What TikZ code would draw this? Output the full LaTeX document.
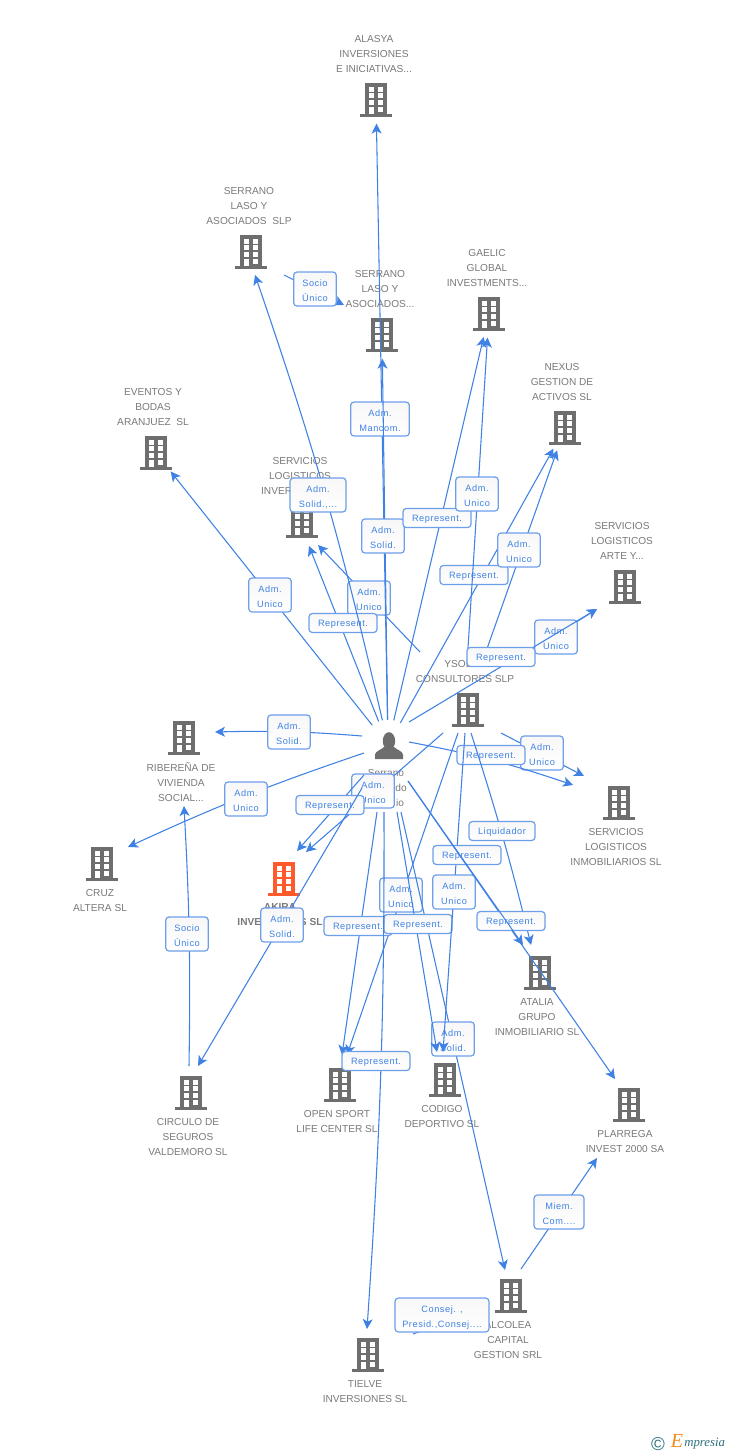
\documentclass[tikz,border=0pt]{standalone}
\usepackage{fontspec}
\setmainfont{Liberation Sans}
\newfontfamily\tagfont[LetterSpace=6]{Liberation Sans}
\newfontfamily\logofont{Liberation Serif}
\usetikzlibrary{arrows.meta, positioning}
\definecolor{linkblue}{HTML}{3F82E4}
\definecolor{tagblue}{HTML}{6C9FEA}
\definecolor{iconGray}{HTML}{6E6E6E}
\definecolor{capGray}{HTML}{7A7A7A}
\definecolor{akiraRed}{HTML}{FF5A2B}
\definecolor{logoTeal}{HTML}{2F6F7F}
\definecolor{logoOrange}{HTML}{F08A1D}

\newcommand{\bldgicon}[1]{
  \begin{scope}[shift={(path picture bounding box.center)}]
  \fill [#1] (-11,-17) rectangle (11,14);
  \fill [#1] (-16,14) rectangle (16,16.7);
  \foreach \wy in {-13.3,-6.7,0} {
    \fill [white] (-7,\wy) rectangle (-2,\wy+5);
    \fill [white] (2.3,\wy) rectangle (7.3,\wy+5);
  }
  \fill [white] (-7,6.7) rectangle (-2,14);
  \fill [white] (2.3,6.7) rectangle (7.3,11.7);
  \end{scope}
}
\tikzset{
  bldg/.style={circle, inner sep=0pt, minimum size=35pt, path picture={\bldgicon{#1}}},
  bldg/.default=iconGray,
  personicon/.style={circle, inner sep=0pt, minimum size=37.5pt},
  caption/.style={align=center, inner sep=0pt, text=capGray, font=\fontsize{7.6}{11.25}\selectfont},
  link/.style={draw=linkblue, line width=0.8pt, -{Stealth[length=7.5pt,width=7.5pt,inset=2pt]}},
  plainlink/.style={draw=linkblue, line width=0.8pt},
  tag/.style={draw=tagblue, line width=0.9pt, rounded corners=2.5pt, top color=black!3, bottom color=white,
    align=center, inner sep=0pt, text=linkblue, font=\tagfont\fontsize{6.9}{11.25}\selectfont,
    minimum width=32pt, minimum height=25.5pt, text height=18pt, text depth=0pt},
  tagone/.style={tag, minimum width=51pt, minimum height=14.25pt, text height=5.5pt}
}

\begin{document}
\begin{tikzpicture}[x=0.75pt, y=-0.75pt]
\useasboundingbox [fill=white] (0,0) rectangle (728,1455);

\node [bldg] (alasya) at (376,100) {};
\node [bldg] (serranoslp) at (251,252) {};
\node [bldg] (serranodos) at (382,335) {};
\node [bldg] (gaelic) at (489,314) {};
\node [bldg] (nexus) at (565,428) {};
\node [bldg] (eventos) at (156,453) {};
\node [bldg] (logistinver) at (302,521) {};
\node [bldg] (logistarte) at (625,587) {};
\node [bldg] (ysolda) at (468,710) {};
\node [bldg] (ribera) at (184,738) {};
\node [bldg] (cruz) at (102,864) {};
\node [bldg=akiraRed] (akira) at (284,879) {};
\node [bldg] (logistinmo) at (619,803) {};
\node [bldg] (atalia) at (540,973) {};
\node [bldg] (plarrega) at (629,1105) {};
\node [bldg] (codigo) at (445,1080) {};
\node [bldg] (opensport) at (340,1085) {};
\node [bldg] (circulo) at (191,1093) {};
\node [bldg] (alcolea) at (511,1296) {};
\node [bldg] (tielve) at (368,1355) {};
\node [personicon] (person) at (388,745) {};
\fill [iconGray] (389,741) ellipse (6.2 and 8.8);
\fill [iconGray] (375,759) -- (375,754.5) .. controls (375.5,751) and (381,750) .. (384,747) -- (394,747) .. controls (397,750) and (402.5,751) .. (403,754.5) -- (403,759) -- cycle;

\node [caption] (alasyaText) at (374,54) {ALASYA\\INVERSIONES\\E INICIATIVAS...};
\node [caption] (serranoslpText) at (249,206) {SERRANO\\LASO Y\\ASOCIADOS~~SLP};
\node [caption] (serranodosText) at (380,289) {SERRANO\\LASO Y\\ASOCIADOS...};
\node [caption] (gaelicText) at (487,268) {GAELIC\\GLOBAL\\INVESTMENTS...};
\node [caption] (nexusText) at (562,382) {NEXUS\\GESTION DE\\ACTIVOS SL};
\node [caption] (eventosText) at (153,407) {EVENTOS Y\\BODAS\\ARANJUEZ~~SL};
\node [caption] (logistinverText) at (300,476) {SERVICIOS\\LOGISTICOS\\INVERSIONES...};
\node [caption] (logistarteText) at (622,541) {SERVICIOS\\LOGISTICOS\\ARTE Y...};
\node [caption] (ysoldaText) at (465,671.5) {YSOLDA\\CONSULTORES SLP};
\node [caption] (riberaText) at (181,782) {RIBERE\~NA DE\\VIVIENDA\\SOCIAL...};
\node [caption] (cruzText) at (100,900.5) {CRUZ\\ALTERA SL};
\node [caption, font=\bfseries\fontsize{7.6}{11.25}\selectfont] (akiraText) at (280,914.5) {AKIRA\\INVERSIONES SL};
\node [caption] (logistinmoText) at (616,847) {SERVICIOS\\LOGISTICOS\\INMOBILIARIOS SL};
\node [caption] (ataliaText) at (537,1017) {ATALIA\\GRUPO\\INMOBILIARIO SL};
\node [caption] (plarregaText) at (625,1141.5) {PLARREGA\\INVEST 2000 SA};
\node [caption] (codigoText) at (442,1116.5) {CODIGO\\DEPORTIVO SL};
\node [caption] (opensportText) at (337,1121.5) {OPEN SPORT\\LIFE CENTER SL};
\node [caption] (circuloText) at (188,1137) {CIRCULO DE\\SEGUROS\\VALDEMORO SL};
\node [caption] (alcoleaText) at (508,1340) {ALCOLEA\\CAPITAL\\GESTION SRL};
\node [caption] (tielveText) at (365,1391.5) {TIELVE\\INVERSIONES SL};
\node [caption] (personText) at (386,773) {Serrano};
\node [caption] (personTextB) at (401,788) {do};
\node [caption] (personTextC) at (400,803) {io};

\coordinate (socioA) at (284,275);
\coordinate (socioB) at (344,305);
\coordinate (logTipA) at (309,546);
\coordinate (logTipB) at (318,545);
\coordinate (ysoUpA) at (420,652);
\coordinate (ysoUpB) at (468,648);
\coordinate (ysoUpC) at (483,660);
\coordinate (ysoUpD) at (513,662);
\coordinate (perArte) at (409,722);
\coordinate (arteTip) at (597,609);
\coordinate (ribA) at (362,736);
\coordinate (ribB) at (215,732);
\coordinate (cruzTip) at (128,847);
\coordinate (perInmo) at (409,742);
\coordinate (inmoTipA) at (573,785);
\coordinate (ysoInmo) at (501,733);
\coordinate (inmoTipB) at (584,776);
\coordinate (perAkira) at (364,775);
\coordinate (akiraTipA) at (297,851);
\coordinate (ysoAkira) at (443,733);
\coordinate (akiraTipB) at (306,852);
\coordinate (perCirc) at (362,788);
\coordinate (circTip) at (198,1066);
\coordinate (circTop) at (189,1066);
\coordinate (ribTip) at (184,806);
\coordinate (perTielve) at (384,812);
\coordinate (tielveTip) at (367,1329);
\coordinate (perOpen) at (377,812);
\coordinate (openTipA) at (342,1055);
\coordinate (ysoOpen) at (458,733);
\coordinate (openTipB) at (347,1055);
\coordinate (perCod) at (397,812);
\coordinate (codTipA) at (437,1052);
\coordinate (perAlc) at (401,812);
\coordinate (alcTip) at (505,1270);
\coordinate (ysoCod) at (465,733);
\coordinate (codTipB) at (443,1052);
\coordinate (ysoAta) at (471,733);
\coordinate (ataTipA) at (531,945);
\coordinate (perAta) at (408,781);
\coordinate (ataTipB) at (523,945);
\coordinate (plarTip) at (615,1079);
\coordinate (alcUp) at (521,1269);
\coordinate (plarDown) at (597,1158);
\coordinate (alcLow) at (478,1310);
\coordinate (tielveTick) at (413,1334);
\coordinate (slpTip) at (255,275);

\draw [link] (person) to [bend right=3] (cruzTip);
\node [tag] (tagCruz) at (246,799) {Adm.\\Unico};
\draw [link] (ribA) to [bend right=3] (ribB);
\node [tag] (tagRibera) at (289,732) {Adm.\\Solid.};
\draw [link] (person) -- (eventos);
\node [tag] (tagEventos) at (270,595) {Adm.\\Unico};
\draw [link] (ysoUpA) -- (logTipB);
\node [tag] (tagLogistB) at (369,598) {Adm.\\Unico};
\draw [link] (person) -- (logTipA);
\node [tagone] (tagLogistA) at (343,623) {Represent.};
\draw [link] (person) to [bend right=3] (slpTip);
\node [tag, minimum width=42pt] (tagSlp) at (318,495) {Adm.\\Solid.,...};
\draw [link] (person) -- (alasya);
\node [tag, minimum width=44pt] (tagAlasya) at (380,419) {Adm.\\Mancom.};
\draw [link] (person) -- (serranodos);
\node [tag] (tagSerrano) at (383,536) {Adm.\\Solid.};
\draw [link] (socioA) -- (socioB);
\node [tag] (tagSocioA) at (315,289) {Socio\\\'Unico};

\draw [link] (person) -- (gaelic);
\node [tagone] (tagGaelicA) at (437,518) {Represent.};
\draw [link] (person) -- (nexus);
\node [tagone] (tagNexusA) at (474,575) {Represent.};
\draw [link] (ysoUpC) -- (nexus);
\node [tag] (tagNexusB) at (519,550) {Adm.\\Unico};
\draw [link] (ysoUpB) -- (gaelic);
\node [tag] (tagGaelicB) at (477,494) {Adm.\\Unico};
\draw [link] (ysoUpD) -- (arteTip);
\node [tag] (tagArteB) at (556,637) {Adm.\\Unico};
\draw [link] (perArte) -- (arteTip);
\node [tagone] (tagArteA) at (501,657) {Represent.};

\draw [link] (ysoInmo) -- (inmoTipB);
\node [tag] (tagInmoB) at (542,753) {Adm.\\Unico};
\draw [link] (perInmo) to [bend left=4] (inmoTipA);
\node [tagone] (tagInmoA) at (491,755) {Represent.};

\draw [link] (ysoAkira) -- (akiraTipB);
\node [tag] (tagAkiraB) at (373,791) {Adm.\\Unico};
\draw [link] (perAkira) -- (akiraTipA);
\node [tagone] (tagAkiraA) at (330,805) {Represent.};
\draw [link] (perCirc) -- (circTip);
\node [tag] (tagCirculo) at (282,925) {Adm.\\Solid.};
\draw [link] (circTop) to [bend right=2] (ribTip);
\node [tag] (tagSocioB) at (187,934) {Socio\\\'Unico};

\draw [link] (ysoOpen) -- (openTipB);
\node [tag] (tagOpenB) at (401,895) {Adm.\\Unico};
\draw [link] (perAlc) -- (alcTip);
\node [tag] (tagAlcolea) at (453,1039) {Adm.\\Solid.};
\draw [link] (perOpen) -- (openTipA);
\node [tagone] (tagOpenA) at (358,926) {Represent.};
\draw [link] (perCod) -- (codTipA);
\node [tagone] (tagCodigoA) at (418,924) {Represent.};
\draw [link] (ysoCod) -- (codTipB);
\node [tag] (tagCodigoB) at (454,892) {Adm.\\Unico};
\draw [link] (perTielve) to [bend left=2] (tielveTip);
\node [tagone] (tagTielve) at (376,1061) {Represent.};

\draw [link] (ysoAta) to [bend left=2] (ataTipA);
\node [tagone, minimum width=49.5pt] (tagLiquid) at (502,831) {Liquidador};
\node [tagone] (tagAtalia) at (467,855) {Represent.};
\draw [link] (perAta) -- (plarTip);
\node [tagone] (tagPlarrega) at (511,921) {Represent.};
\draw [link] (perAta) -- (ataTipB);

\draw [link] (alcUp) -- (plarDown);
\node [tag, minimum width=37.5pt] (tagMiem) at (559,1212) {Miem.\\Com....};
\draw [plainlink] (alcLow) -- (tielveTick);
\node [tag, minimum width=70.5pt] (tagConsej) at (442,1315) {Consej. ,\\Presid.,Consej....};

\node [text=logoTeal, inner sep=0pt, font=\fontsize{14}{14}\selectfont] (logoMark) at (658,1444) {\textcopyright};
\node [text=logoOrange, inner sep=0pt, font=\logofont\itshape\fontsize{15}{15}\selectfont] (logoE) at (677,1441) {E};
\node [text=logoTeal, inner sep=0pt, anchor=west, font=\logofont\itshape\fontsize{9.6}{10}\selectfont] (logoName) at (684,1444) {mpresia};
\end{tikzpicture}
\end{document}
